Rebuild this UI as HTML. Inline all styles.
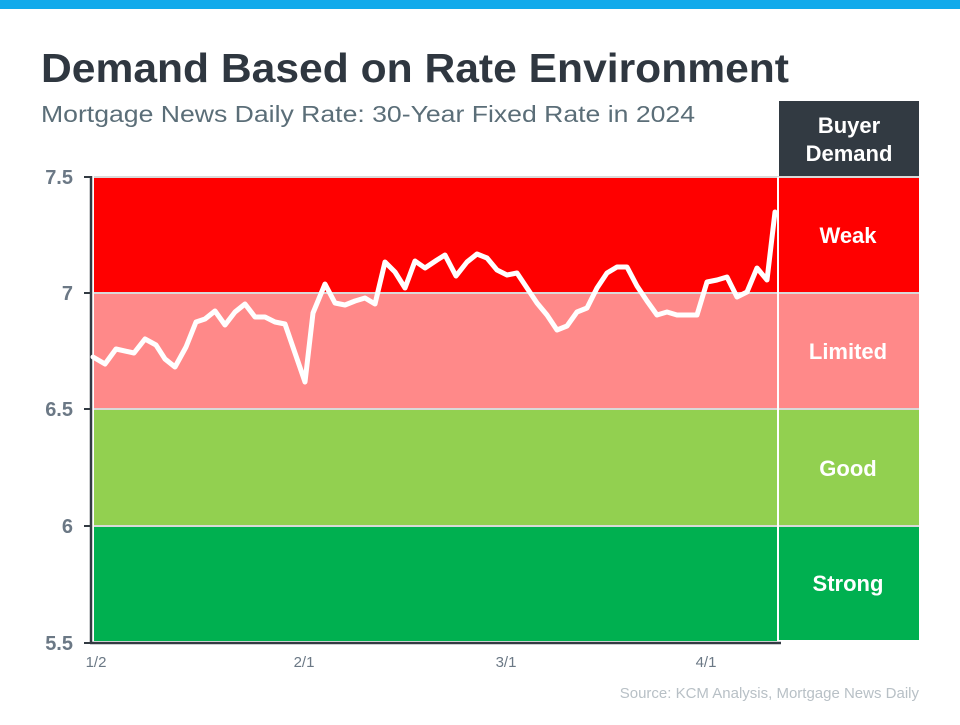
<!DOCTYPE html>
<html><head><meta charset="utf-8"><style>
body{margin:0;width:960px;height:720px;background:#fff;overflow:hidden;font-family:"Liberation Sans",sans-serif}
</style></head><body>
<svg width="960" height="720" xmlns="http://www.w3.org/2000/svg" font-family="Liberation Sans, sans-serif">
<rect x="0" y="0" width="960" height="9" fill="#12aaeb"/>
<text x="41" y="82" font-size="41" font-weight="bold" fill="#2f3740" textLength="748" lengthAdjust="spacingAndGlyphs">Demand Based on Rate Environment</text>
<text x="41" y="122" font-size="23" fill="#5b6e78" textLength="654" lengthAdjust="spacingAndGlyphs">Mortgage News Daily Rate: 30-Year Fixed Rate in 2024</text>
<rect x="94" y="177" width="684" height="116" fill="#ff0000"/>
<rect x="94" y="293" width="684" height="116" fill="#ff8989"/>
<rect x="94" y="409" width="684" height="117" fill="#92d050"/>
<rect x="94" y="526" width="684" height="115" fill="#00b050"/>
<rect x="779" y="101" width="140" height="76" fill="#323a42"/>
<rect x="779" y="177" width="140" height="116" fill="#ff0000"/>
<rect x="779" y="293" width="140" height="116" fill="#ff8989"/>
<rect x="779" y="409" width="140" height="117" fill="#92d050"/>
<rect x="779" y="526" width="140" height="114" fill="#00b050"/>
<g stroke="#d9d9d9" stroke-width="2">
<line x1="94" y1="177" x2="919" y2="177"/><line x1="94" y1="293" x2="919" y2="293"/>
<line x1="94" y1="409" x2="919" y2="409"/><line x1="94" y1="526" x2="919" y2="526"/>
</g>
<line x1="778" y1="177" x2="778" y2="642" stroke="#fff" stroke-width="2"/>
<g font-size="22" font-weight="bold" fill="#fff" text-anchor="middle">
<text x="849" y="133">Buyer</text><text x="849" y="161">Demand</text>
<text x="848" y="243">Weak</text><text x="848" y="359">Limited</text>
<text x="848" y="476">Good</text><text x="848" y="591">Strong</text>
</g>
<line x1="91" y1="176" x2="91" y2="644" stroke="#323a42" stroke-width="2.5"/>
<line x1="90" y1="643" x2="781" y2="643" stroke="#323a42" stroke-width="2.5"/>
<g stroke="#323a42" stroke-width="2">
<line x1="84" y1="177" x2="91" y2="177"/><line x1="84" y1="293" x2="91" y2="293"/>
<line x1="84" y1="409" x2="91" y2="409"/><line x1="84" y1="526" x2="91" y2="526"/><line x1="84" y1="643" x2="91" y2="643"/>
</g>
<g font-size="20" font-weight="bold" fill="#6b7885" text-anchor="end">
<text x="73" y="184">7.5</text><text x="73" y="300">7</text><text x="73" y="416">6.5</text><text x="73" y="533">6</text><text x="73" y="650">5.5</text>
</g>
<g font-size="15" fill="#6b7885" text-anchor="middle">
<text x="96" y="667">1/2</text><text x="304" y="667">2/1</text><text x="506" y="667">3/1</text><text x="706" y="667">4/1</text>
</g>
<text x="919" y="698" font-size="15" fill="#b8c0c6" text-anchor="end">Source: KCM Analysis, Mortgage News Daily</text>
<polyline fill="none" stroke="#fff" stroke-width="5" stroke-linejoin="round" stroke-linecap="round" points="93,357 105,364 116,349 134,353 145,339 156,345 165,359 175,367 186,347 196,322 205,319 215,311 225,325 235,312 245,304 255,317 265,317 275,322 285,324 305,382 313,313 325,284 335,303 345,305 355,301 365,298 375,304 385,262 395,272 405,288 415,261 425,268 437,260 445,255 456,276 467,262 477,254 487,258 497,270 507,275 517,273 527,288 537,303 547,315 557,330 567,326 577,312 587,308 597,288 607,273 617,267 627,267 637,286 647,301 657,315 667,312 677,315 697,315 707,282 717,280 727,277 737,297 747,292 757,268 767,280 775,212"/>
</svg>
</body></html>
